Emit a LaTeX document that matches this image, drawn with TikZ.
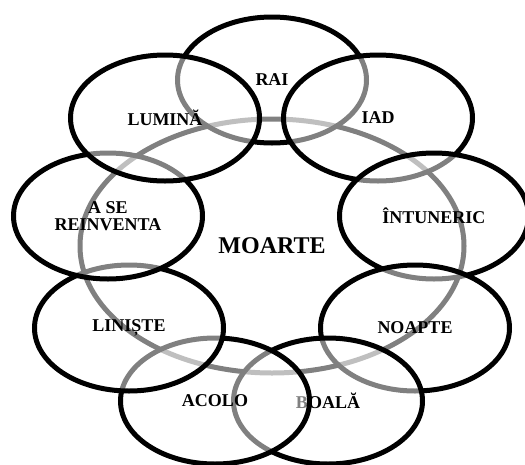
\documentclass[tikz,border=0pt]{standalone}
\usepackage{fontspec}
\setmainfont{Liberation Serif}
\usetikzlibrary{shapes.geometric}
\tikzset{
  petal/.style={ellipse, draw=black, line width=5pt, fill=white, fill opacity=0.5, draw opacity=1, text opacity=1,
    minimum width=189pt, minimum height=126pt, inner sep=0pt, align=center,
    font=\fontsize{18}{16.5}\selectfont\bfseries},
  core/.style={ellipse, draw=black, line width=5pt, minimum width=384pt, minimum height=254pt, inner sep=0pt,
    font=\fontsize{24}{28}\selectfont\bfseries}
}
\begin{document}
\begin{tikzpicture}[x=1pt,y=-1pt]
\useasboundingbox (0,0) rectangle (525,464);
\node[core] (moarte) at (272,246) {MOARTE};
\node[petal] (rai) at (272,80) {RAI};
\node[petal] (iad) at (378,118) {IAD};
\node[petal] (intuneric) at (434,216) {ÎNTUNERIC};
\node[petal] (noapte) at (415,328) {NOAPTE};
\node[petal] (boala) at (328,401) {BOALĂ};
\node[petal] (acolo) at (215,401) {ACOLO};
\node[petal] (liniste) at (129,328) {LINIȘTE};
\node[petal] (reinventa) at (108,216) {A SE\\REINVENTA};
\node[petal] (lumina) at (165,118) {LUMINĂ};
\end{tikzpicture}
\end{document}
